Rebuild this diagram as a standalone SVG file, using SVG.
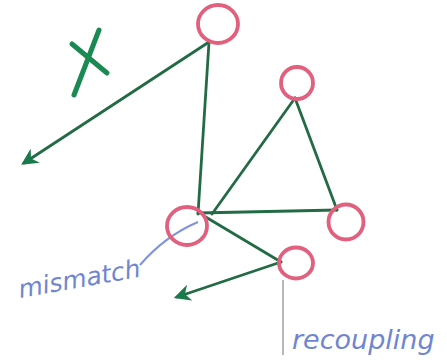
<svg xmlns="http://www.w3.org/2000/svg" width="447" height="362" viewBox="0 0 447 362">
<style>
.node{fill:none;stroke:#e0607e;stroke-width:3.8}
.edge{fill:none;stroke:#236b45;stroke-width:2.8;stroke-linecap:round}
.lbl{font-family:"DejaVu Sans",sans-serif;font-style:italic;fill:#7086d0}
</style>
<defs>
<marker id="ah" viewBox="0 0 10 10" refX="8" refY="5" markerWidth="6" markerHeight="6" orient="auto-start-reverse" markerUnits="strokeWidth">
<path d="M0,0 L10,5 L0,10 L3,5 Z" fill="#1a7a4c"/>
</marker>
</defs>
<rect width="447" height="362" fill="#fff"/>
<g id="connectors">
<line class="edge" x1="209" y1="42" x2="24" y2="163" marker-end="url(#ah)"/>
<line class="edge" x1="209" y1="42" x2="198" y2="214"/>
<line class="edge" x1="295" y1="98" x2="212" y2="214"/>
<line class="edge" x1="295" y1="98" x2="337" y2="210"/>
<line class="edge" x1="198" y1="213" x2="337" y2="210"/>
<line class="edge" x1="204" y1="216" x2="281" y2="262"/>
<line class="edge" x1="281" y1="262" x2="177" y2="297" marker-end="url(#ah)"/>
<path d="M140,265 Q165,236 198,222" fill="none" stroke="#7d93dc" stroke-width="2"/>
<line x1="283" y1="280" x2="283" y2="355" stroke="#b8b8b8" stroke-width="2"/>
</g>
<g id="n1"><ellipse class="node" cx="218" cy="24" rx="20" ry="19"/></g>
<g id="n2"><circle class="node" cx="297" cy="83" r="16"/></g>
<g id="n3"><ellipse class="node" cx="187" cy="226" rx="20" ry="19"/></g>
<g id="n4"><ellipse class="node" cx="346" cy="222" rx="17.5" ry="17.5"/></g>
<g id="n5"><ellipse class="node" cx="296" cy="263" rx="17" ry="15.5"/></g>
<g id="x-mark" stroke="#1a8a52" stroke-width="5" stroke-linecap="round" fill="none">
<path d="M74,95 L99,30"/>
<path d="M72,44 L107,73"/>
</g>
<text class="lbl" x="20" y="298" font-size="25" transform="rotate(-10 20 298)">mismatch</text>
<text class="lbl" x="292" y="349" font-size="27">recoupling</text>
</svg>
